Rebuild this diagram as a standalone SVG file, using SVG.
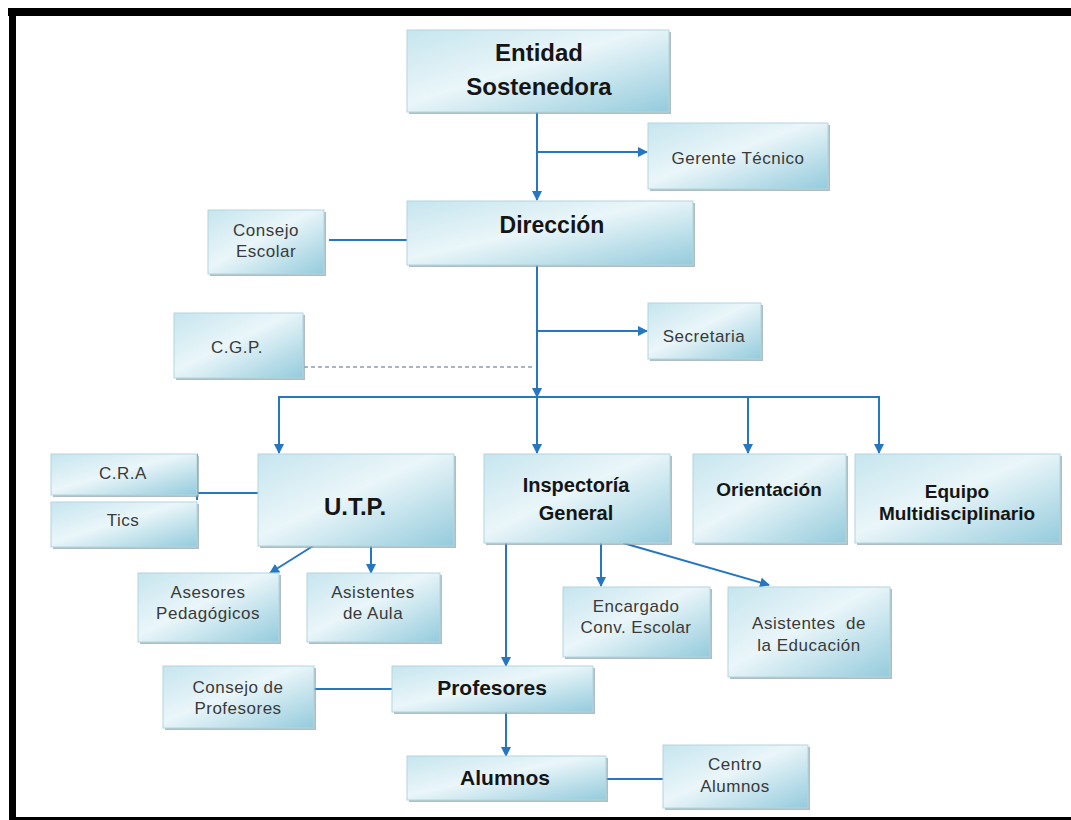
<svg xmlns="http://www.w3.org/2000/svg" width="1071" height="820" viewBox="0 0 1071 820">
<defs>
<linearGradient id="boxg" x1="0" y1="0" x2="1" y2="1">
<stop offset="0" stop-color="#c6e5ee"/>
<stop offset="0.45" stop-color="#eaf6f9"/>
<stop offset="1" stop-color="#94cbdc"/>
</linearGradient>
<marker id="arr" markerWidth="10" markerHeight="10" refX="9" refY="5" orient="auto" markerUnits="userSpaceOnUse">
<path d="M0,0 L10,5 L0,10 Z" fill="#2676c0"/>
</marker>
<style>
.box{fill:url(#boxg);stroke:#b2d5df;stroke-width:1}
.sh{fill:#8fa3ab;opacity:0.7}
.b{font-family:"Liberation Sans",Arial,sans-serif;font-weight:bold;fill:#151515;text-anchor:middle}
.r{font-family:"Liberation Sans",Arial,sans-serif;font-size:17px;letter-spacing:0.5px;fill:#3a3a3a;text-anchor:middle}
.c{stroke:#2676c0;stroke-width:2;fill:none}
.ca{stroke:#2676c0;stroke-width:2;fill:none;marker-end:url(#arr)}
.d{stroke:#8a9eae;stroke-width:1.5;stroke-dasharray:4 3;fill:none}
</style>
</defs>
<rect x="0" y="0" width="1071" height="820" fill="#ffffff"/>
<g id="frame" fill="#000">
<rect x="8" y="8" width="1063" height="8"/>
<rect x="9" y="8" width="7" height="812"/>
<rect x="9" y="817" width="1062" height="3"/>
</g>
<g id="connectors">
<line class="ca" x1="537" y1="112" x2="537" y2="200"/>
<line class="ca" x1="537" y1="152" x2="647" y2="152"/>
<line class="c" x1="329" y1="240" x2="407" y2="240"/>
<line class="ca" x1="537" y1="265" x2="537" y2="397"/>
<line class="ca" x1="537" y1="331" x2="647" y2="331"/>
<line class="d" x1="304" y1="367" x2="532" y2="367"/>
<line class="c" x1="279" y1="397" x2="880" y2="397"/>
<line class="ca" x1="279" y1="396" x2="279" y2="453"/>
<line class="ca" x1="537" y1="397" x2="537" y2="453"/>
<line class="ca" x1="748" y1="396" x2="748" y2="453"/>
<line class="ca" x1="879" y1="396" x2="879" y2="453"/>
<line class="c" x1="197" y1="454" x2="197" y2="500"/>
<line class="c" x1="197" y1="493" x2="259" y2="493"/>
<line class="ca" x1="313" y1="546" x2="270" y2="573"/>
<line class="ca" x1="371" y1="546" x2="371" y2="573"/>
<line class="ca" x1="506" y1="543" x2="506" y2="666"/>
<line class="ca" x1="601" y1="543" x2="601" y2="586"/>
<line class="ca" x1="623" y1="543" x2="769" y2="585"/>
<line class="c" x1="314" y1="689" x2="392" y2="689"/>
<line class="ca" x1="506" y1="712" x2="506" y2="756"/>
<line class="c" x1="606" y1="779" x2="663" y2="779"/>
</g>
<g id="entidad"><rect class="sh" x="409" y="32" width="262" height="82"/><rect class="box" x="407" y="30" width="262" height="82"/><text class="b" font-size="24" x="539" y="61">Entidad</text><text class="b" font-size="24" x="539" y="95">Sostenedora</text></g>
<g id="gerente"><rect class="sh" x="650" y="125" width="180" height="66"/><rect class="box" x="648" y="123" width="180" height="66"/><text class="r" x="738" y="164">Gerente Técnico</text></g>
<g id="direccion"><rect class="sh" x="409" y="203" width="286" height="64"/><rect class="box" x="407" y="201" width="286" height="64"/><text class="b" font-size="23" x="552" y="233">Dirección</text></g>
<g id="consejo-escolar"><rect class="sh" x="210" y="212" width="116" height="64"/><rect class="box" x="208" y="210" width="116" height="64"/><text class="r" x="266" y="236">Consejo</text><text class="r" x="266" y="257">Escolar</text></g>
<g id="secretaria"><rect class="sh" x="650" y="305" width="113" height="56"/><rect class="box" x="648" y="303" width="113" height="56"/><text class="r" x="704" y="342">Secretaria</text></g>
<g id="cgp"><rect class="sh" x="176" y="315" width="129" height="65"/><rect class="box" x="174" y="313" width="129" height="65"/><text class="r" x="237" y="353">C.G.P.</text></g>
<g id="cra"><rect class="sh" x="53" y="456" width="146" height="41"/><rect class="box" x="51" y="454" width="146" height="41"/><text class="r" x="123" y="479">C.R.A</text></g>
<g id="tics"><rect class="sh" x="53" y="504" width="146" height="45"/><rect class="box" x="51" y="502" width="146" height="45"/><text class="r" x="123" y="526">Tics</text></g>
<g id="utp"><rect class="sh" x="260" y="456" width="196" height="92"/><rect class="box" x="258" y="454" width="196" height="92"/><text class="b" font-size="24" x="355" y="515">U.T.P.</text></g>
<g id="inspectoria"><rect class="sh" x="486" y="456" width="186" height="89"/><rect class="box" x="484" y="454" width="186" height="89"/><text class="b" font-size="20" x="576" y="492">Inspectoría</text><text class="b" font-size="20" x="576" y="520">General</text></g>
<g id="orientacion"><rect class="sh" x="695" y="456" width="153" height="89"/><rect class="box" x="693" y="454" width="153" height="89"/><text class="b" font-size="19" x="769" y="496">Orientación</text></g>
<g id="equipo"><rect class="sh" x="857" y="456" width="205" height="89"/><rect class="box" x="855" y="454" width="205" height="89"/><text class="b" font-size="19" x="957" y="498">Equipo</text><text class="b" font-size="19" x="957" y="520">Multidisciplinario</text></g>
<g id="asesores"><rect class="sh" x="140" y="575" width="141" height="69"/><rect class="box" x="138" y="573" width="141" height="69"/><text class="r" x="208" y="598">Asesores</text><text class="r" x="208" y="619">Pedagógicos</text></g>
<g id="asistentes-aula"><rect class="sh" x="309" y="575" width="133" height="69"/><rect class="box" x="307" y="573" width="133" height="69"/><text class="r" x="373" y="598">Asistentes</text><text class="r" x="373" y="619">de Aula</text></g>
<g id="encargado"><rect class="sh" x="565" y="589" width="147" height="70"/><rect class="box" x="563" y="587" width="147" height="70"/><text class="r" x="636" y="612">Encargado</text><text class="r" x="636" y="633">Conv. Escolar</text></g>
<g id="asistentes-educacion"><rect class="sh" x="730" y="589" width="162" height="90"/><rect class="box" x="728" y="587" width="162" height="90"/><text class="r" x="809" y="629">Asistentes&#160; de</text><text class="r" x="809" y="651">la Educación</text></g>
<g id="consejo-profesores"><rect class="sh" x="165" y="668" width="151" height="62"/><rect class="box" x="163" y="666" width="151" height="62"/><text class="r" x="238" y="693">Consejo de</text><text class="r" x="238" y="714">Profesores</text></g>
<g id="profesores"><rect class="sh" x="394" y="668" width="201" height="46"/><rect class="box" x="392" y="666" width="201" height="46"/><text class="b" font-size="21" x="492" y="695">Profesores</text></g>
<g id="alumnos"><rect class="sh" x="409" y="758" width="199" height="44"/><rect class="box" x="407" y="756" width="199" height="44"/><text class="b" font-size="21" x="505" y="785">Alumnos</text></g>
<g id="centro-alumnos"><rect class="sh" x="665" y="747" width="145" height="63"/><rect class="box" x="663" y="745" width="145" height="63"/><text class="r" x="735" y="770">Centro</text><text class="r" x="735" y="792">Alumnos</text></g>
</svg>
